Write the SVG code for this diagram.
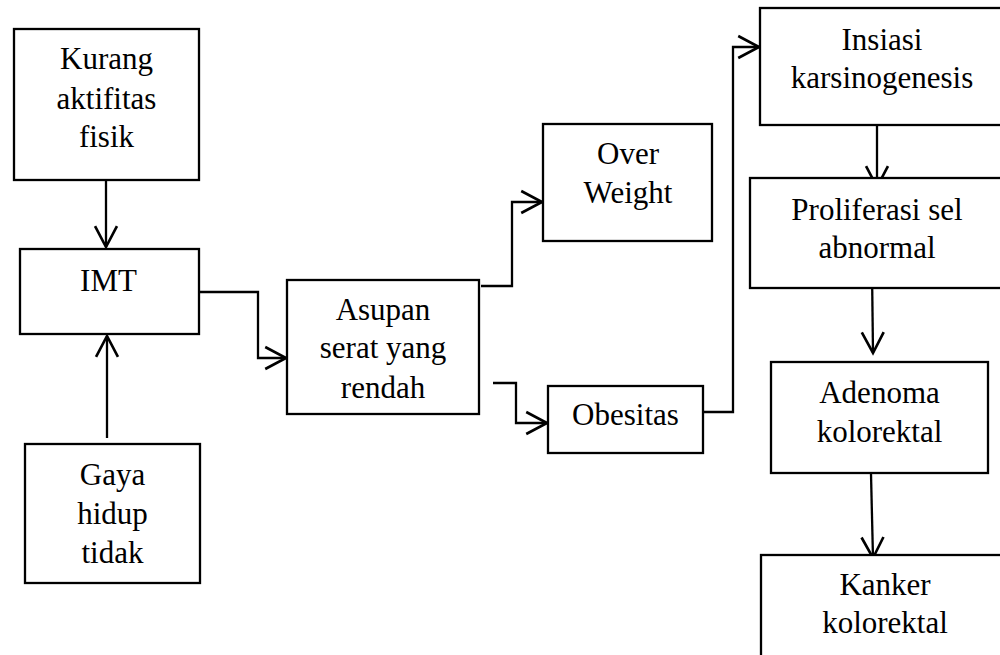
<svg xmlns="http://www.w3.org/2000/svg" width="1000" height="655" viewBox="0 0 1000 655">
<style>
.box{fill:#fff;stroke:#000;stroke-width:2.3}
.t{font-family:"Liberation Serif","Times New Roman",serif;font-size:31px;fill:#000;text-anchor:middle}
.c{fill:none;stroke:#000;stroke-width:2.3}
</style>
<defs>
<marker id="arr" markerUnits="userSpaceOnUse" markerWidth="30" markerHeight="30" viewBox="-22 -12 26 24" refX="0" refY="0" orient="auto">
<path d="M-18,-9.5 L0,0 L-18,9.5" fill="none" stroke="#000" stroke-width="2.3"/>
</marker>
</defs>
<rect width="1000" height="655" fill="#fff"/>
<g id="connectors">
<path class="c" d="M106,181 L106,247" marker-end="url(#arr)"/>
<path class="c" d="M107,438 L107,336" marker-end="url(#arr)"/>
<path class="c" d="M199,292 H258 V358 H286" marker-end="url(#arr)"/>
<path class="c" d="M481,286 H512 V202 H542" marker-end="url(#arr)"/>
<path class="c" d="M493,383 H516 V423 H547" marker-end="url(#arr)"/>
<path class="c" d="M704,412 H733 V47 H759" marker-end="url(#arr)"/>
<path class="c" d="M877,126 L877,187" marker-end="url(#arr)"/>
<path class="c" d="M872,270 L873,353" marker-end="url(#arr)"/>
<path class="c" d="M871,474 L873,558" marker-end="url(#arr)"/>
</g>
<g id="kurang">
<rect class="box" x="14" y="29" width="185" height="151"/>
<text class="t" x="106.5" y="69">Kurang</text>
<text class="t" x="106.5" y="109">aktifitas</text>
<text class="t" x="106.5" y="147">fisik</text>
</g>
<g id="imt">
<rect class="box" x="20" y="249" width="179" height="85"/>
<text class="t" x="108.5" y="291">IMT</text>
</g>
<g id="gaya">
<rect class="box" x="25" y="444" width="175" height="139"/>
<text class="t" x="112.5" y="485">Gaya</text>
<text class="t" x="112.5" y="524">hidup</text>
<text class="t" x="112.5" y="563">tidak</text>
</g>
<g id="asupan">
<rect class="box" x="287" y="280" width="192" height="134"/>
<text class="t" x="383" y="320">Asupan</text>
<text class="t" x="383" y="358">serat yang</text>
<text class="t" x="383" y="398">rendah</text>
</g>
<g id="overweight">
<rect class="box" x="543" y="124" width="169" height="117"/>
<text class="t" x="628" y="164">Over</text>
<text class="t" x="628" y="203">Weight</text>
</g>
<g id="obesitas">
<rect class="box" x="548" y="386" width="155" height="67"/>
<text class="t" x="625.5" y="425">Obesitas</text>
</g>
<g id="insiasi">
<rect class="box" x="760" y="8" width="260" height="117"/>
<text class="t" x="882" y="50">Insiasi</text>
<text class="t" x="882" y="88">karsinogenesis</text>
</g>
<g id="proliferasi">
<rect class="box" x="750" y="178" width="270" height="110"/>
<text class="t" x="877" y="220">Proliferasi sel</text>
<text class="t" x="877" y="258">abnormal</text>
</g>
<g id="adenoma">
<rect class="box" x="771" y="362" width="217" height="111"/>
<text class="t" x="879.5" y="403">Adenoma</text>
<text class="t" x="879.5" y="442">kolorektal</text>
</g>
<g id="kanker">
<rect class="box" x="761" y="555" width="260" height="120"/>
<text class="t" x="885" y="595">Kanker</text>
<text class="t" x="885" y="633">kolorektal</text>
</g>
</svg>
